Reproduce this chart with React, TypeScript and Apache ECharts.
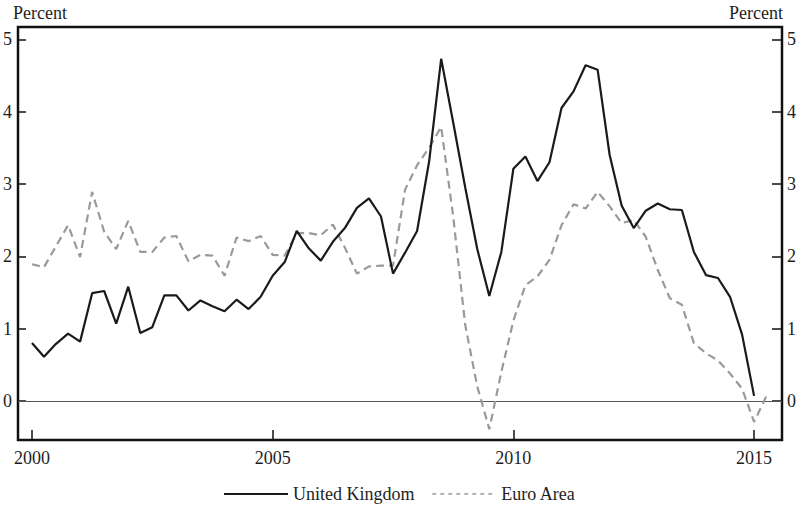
import React, { useEffect, useRef } from "react";
import * as echarts from "echarts";

// Quarterly data, 2000Q1 onward (percent)
const seriesNames = ["United Kingdom", "Euro Area"];
const startYear = 2000;
const ukValues = [
  0.80, 0.61, 0.79, 0.93,
  0.82, 1.49, 1.52, 1.07,
  1.58, 0.94, 1.02, 1.46,
  1.46, 1.25, 1.39, 1.31,
  1.24, 1.40, 1.27, 1.44,
  1.73, 1.92, 2.35, 2.11,
  1.94, 2.20, 2.39, 2.67,
  2.80, 2.55, 1.76, 2.05,
  2.35, 3.31, 4.73, 3.85,
  2.95, 2.10, 1.45, 2.06,
  3.21, 3.38, 3.04, 3.30,
  4.05, 4.28, 4.64, 4.58,
  3.40, 2.70, 2.39, 2.63,
  2.73, 2.65, 2.64, 2.06,
  1.74, 1.70, 1.44, 0.92,
  0.07,
];
const euroValues = [
  1.89, 1.85, 2.14, 2.43,
  1.99, 2.89, 2.34, 2.10,
  2.49, 2.06, 2.06, 2.26,
  2.28, 1.93, 2.02, 2.01,
  1.73, 2.26, 2.21, 2.28,
  2.02, 2.01, 2.32, 2.32,
  2.29, 2.44, 2.12, 1.76,
  1.86, 1.87, 1.87, 2.92,
  3.26, 3.50, 3.79, 2.55,
  1.05, 0.20, -0.39, 0.40,
  1.11, 1.60, 1.72, 1.95,
  2.43, 2.72, 2.66, 2.89,
  2.69, 2.46, 2.50, 2.27,
  1.81, 1.42, 1.33, 0.80,
  0.66, 0.56, 0.38, 0.17,
  -0.29, 0.06,
];
const xTickLabels = [2000, 2005, 2010, 2015];
const yTickLabels = [0, 1, 2, 3, 4, 5];
const unitLabel = "Percent";

const FONT = "Liberation Serif";
const TEXT_COLOR = "#1e1e1e";

function toPoints(values: number[]) {
  return values.map((v, i) => [startYear + i / 4, v]);
}

export default function App() {
  const ref = useRef<HTMLDivElement>(null);

  useEffect(() => {
    document.body.style.margin = "0";
    if (!ref.current) return;
    const chart = echarts.init(ref.current, null, { renderer: "svg" });

    const yAxisBase = (position: "left" | "right", tickLen: number, margin: number) => ({
      type: "value",
      position,
      min: -0.54,
      max: 5.17,
      axisLine: { show: false, onZero: false },
      splitLine: { show: false },
      axisTick: {
        show: true,
        inside: true,
        length: tickLen,
        customValues: yTickLabels,
        lineStyle: { color: "#111", width: 1.5 },
      },
      axisLabel: {
        customValues: yTickLabels,
        margin,
        color: TEXT_COLOR,
        fontFamily: FONT,
        fontSize: 18,
        formatter: (v: number) => String(Math.round(v)),
      },
    });

    chart.setOption({
      animation: false,
      backgroundColor: "#ffffff",
      grid: {
        left: 14,
        right: 20,
        top: 27,
        bottom: 71,
        show: true,
        borderColor: "#111",
        borderWidth: 2.5,
        backgroundColor: "transparent",
      },
      xAxis: {
        type: "value",
        position: "bottom",
        min: 1999.71,
        max: 2015.58,
        axisLine: { show: false, onZero: false },
        splitLine: { show: false },
        axisTick: {
          show: true,
          inside: true,
          length: 10,
          customValues: xTickLabels,
          lineStyle: { color: "#111", width: 1.5 },
        },
        axisLabel: {
          customValues: xTickLabels,
          margin: 9,
          color: TEXT_COLOR,
          fontFamily: FONT,
          fontSize: 18,
          formatter: (v: number) => String(Math.round(v)),
        },
      },
      yAxis: [yAxisBase("left", 8, 6), yAxisBase("right", 10, 5)],
      legend: {
        left: 218,
        top: 480,
        itemWidth: 64,
        itemHeight: 20,
        itemGap: 17,
        data: [
          { name: seriesNames[0], lineStyle: { width: 2 } },
          { name: seriesNames[1], lineStyle: { type: [4, 4], width: 1.5 } },
        ],
        itemStyle: { opacity: 0 },
        textStyle: { fontFamily: FONT, fontSize: 18, color: TEXT_COLOR },
      },
      graphic: [
        {
          type: "text",
          left: 13,
          top: 4,
          style: { text: unitLabel, fontFamily: FONT, fontSize: 18, fill: TEXT_COLOR },
        },
        {
          type: "text",
          right: 19,
          top: 4,
          style: { text: unitLabel, fontFamily: FONT, fontSize: 18, fill: TEXT_COLOR },
        },
      ],
      series: [
        {
          name: seriesNames[0],
          type: "line",
          data: toPoints(ukValues),
          symbol: "none",
          z: 3,
          lineStyle: { color: "#1a1a1a", width: 2.2 },
          itemStyle: { color: "#1a1a1a" },
          markLine: {
            silent: true,
            symbol: "none",
            label: { show: false },
            lineStyle: { color: "#555", width: 1.2, type: "solid" },
            data: [{ yAxis: 0 }],
            z: 1,
          },
        },
        {
          name: seriesNames[1],
          type: "line",
          data: toPoints(euroValues),
          symbol: "none",
          z: 2,
          lineStyle: { color: "#9a9a9a", width: 2.2, type: [8, 5] },
          itemStyle: { color: "#9a9a9a" },
        },
      ],
    });

    return () => chart.dispose();
  }, []);

  return <div ref={ref} style={{ width: 802, height: 511 }} />;
}
